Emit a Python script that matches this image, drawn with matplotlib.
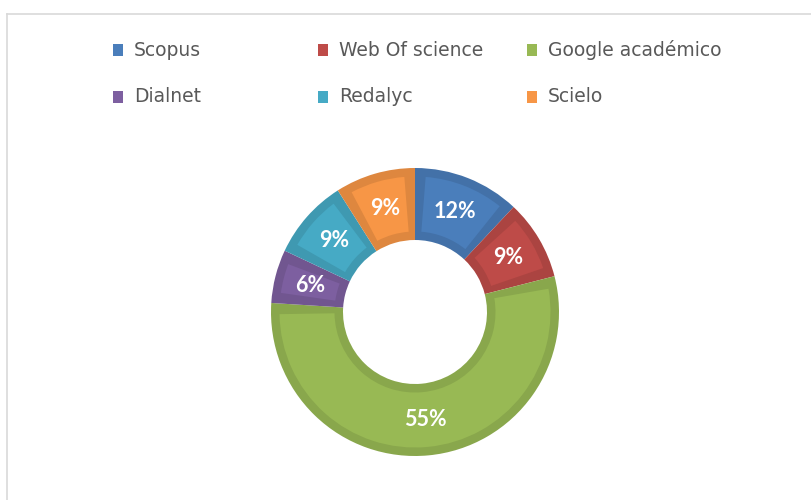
# -*- coding: utf-8 -*-

'''
Donut chart of the databases used in the review (share of documents).
'''

import numpy as np
import matplotlib
matplotlib.use('Agg')
import matplotlib.pyplot as plt
from matplotlib.colors import to_rgb
from matplotlib.patches import Rectangle, Wedge
from matplotlib.lines import Line2D

# Data.
bases = ['Scopus', 'Web Of science', 'Google académico',
         'Dialnet', 'Redalyc', 'Scielo']
shares = [12, 9, 55, 6, 9, 9]

colors = ['#4A7EBB', '#BE4B48', '#98B954', '#7D5FA0', '#46AAC5', '#F79646']


def darker(col, fac=0.9):
    return tuple(c * fac for c in to_rgb(col))


def main():

    fig_w, fig_h = 811, 500
    fig = plt.figure(figsize=(fig_w / 100, fig_h / 100), dpi=100)

    # Chart area border, the right and bottom edges are cut off.
    fig.add_artist(Line2D([6.5 / fig_w, 6.5 / fig_w],
                          [0, 1 - 13.5 / fig_h], color='#D9D9D9', lw=1.2))
    fig.add_artist(Line2D([6.5 / fig_w, 1],
                          [1 - 13.5 / fig_h, 1 - 13.5 / fig_h],
                          color='#D9D9D9', lw=1.2))
    #==========================================================================

    # Donut, centre and outer radius in pixels.
    cx, cy, rad = 415, 312, 144
    half = 160
    ax = fig.add_axes([(cx - half) / fig_w, (fig_h - cy - half) / fig_h,
                       2 * half / fig_w, 2 * half / fig_h])

    ring_w = 0.5
    wedges, _, autotexts = ax.pie(
        shares,
        colors=[darker(c) for c in colors],
        startangle=90,
        counterclock=False,
        radius=1,
        autopct=lambda p: f'{p:.0f}%',
        pctdistance=0.75,
        wedgeprops=dict(width=ring_w, linewidth=0),
        textprops=dict(color='white', fontsize=15.5, fontweight='bold',
                       family=['Lato', 'DejaVu Sans']))

    # Lighter inset on every slice, leaves a darker rim round it.
    rim = 8.5 / rad
    for wdg, col in zip(wedges, colors):
        dth = np.degrees(rim / 0.75)
        inset = Wedge((0, 0), 1 - rim, wdg.theta1 + dth, wdg.theta2 - dth,
                      width=ring_w - 2 * rim, facecolor=col,
                      edgecolor='none', zorder=wdg.get_zorder() + 0.1)
        ax.add_patch(inset)
    for txt in autotexts:
        txt.set_zorder(5)

    lim = half / rad
    ax.set_xlim(-lim, lim)
    ax.set_ylim(-lim, lim)
    ax.set_aspect('auto')
    ax.axis('off')
    #==========================================================================

    # Legend, two rows of three, drawn by hand to get Excel column widths.
    col_x = [113, 318, 527]
    row_y = [50, 97]
    for i, (lab, col) in enumerate(zip(bases, colors)):
        x0 = col_x[i % 3]
        y0 = row_y[i // 3]
        fig.add_artist(Rectangle(
            (x0 / fig_w, (fig_h - y0 - 6) / fig_h), 10 / fig_w, 12 / fig_h,
            facecolor=col, edgecolor='none'))
        fig.text((x0 + 21) / fig_w, (fig_h - y0) / fig_h, lab,
                 ha='left', va='center', fontsize=13.5, color='#595959',
                 family='DejaVu Sans')

    fig.savefig('out.png', dpi=100, facecolor='white')
    plt.close(fig)
    return


if __name__ == '__main__':
    main()
